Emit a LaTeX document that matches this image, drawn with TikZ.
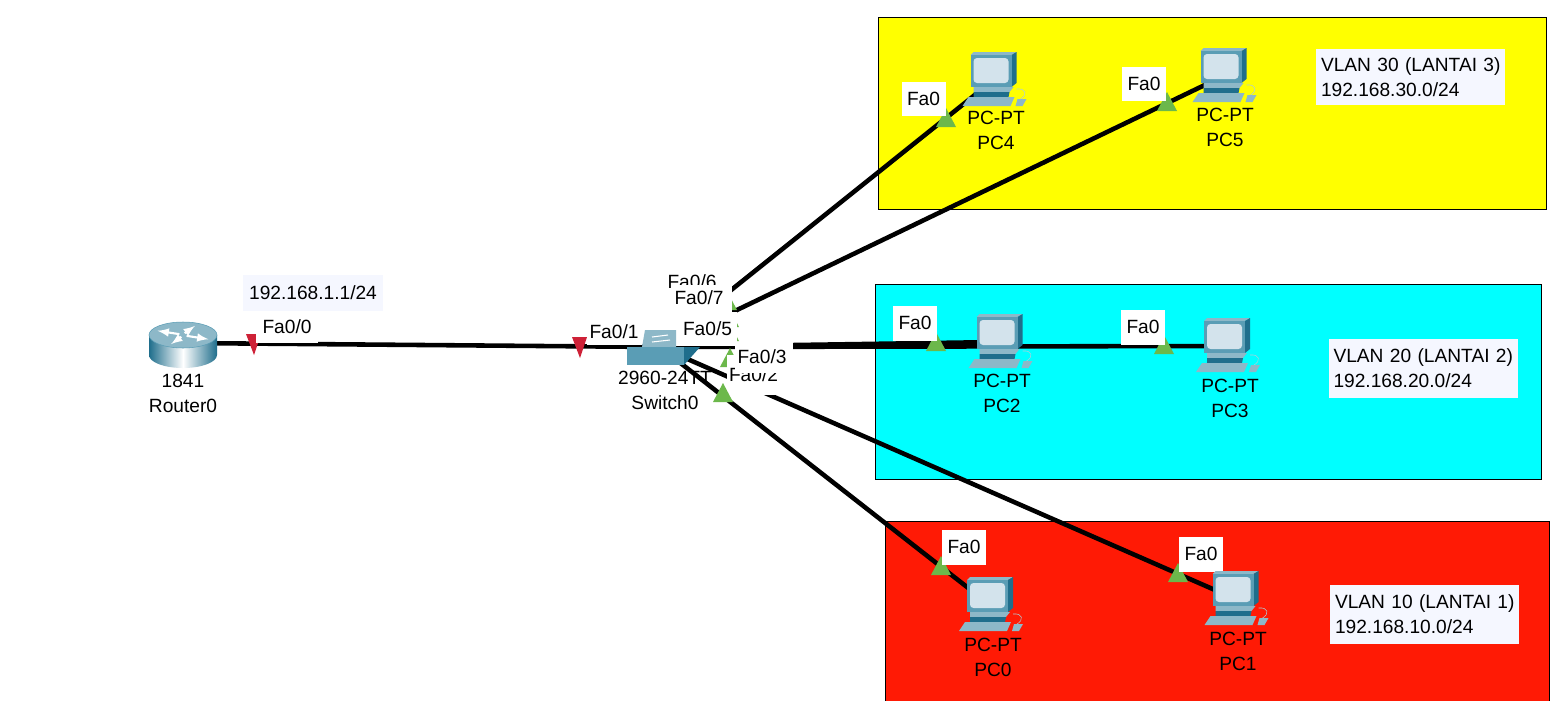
\documentclass[tikz,border=0pt]{standalone}
\usepackage{fontspec}
\setmainfont{Liberation Sans}
\definecolor{zoneyellow}{HTML}{FFFF00}
\definecolor{zonecyan}{HTML}{00FFFF}
\definecolor{zonered}{HTML}{FF1A05}
\definecolor{notebg}{HTML}{F5F7FF}
\definecolor{upgreen}{HTML}{6CB84B}
\definecolor{downred}{HTML}{CE2137}
\definecolor{teal1}{HTML}{5A9DB5}
\definecolor{teal2}{HTML}{1F6E8C}
\definecolor{teal3}{HTML}{8DB8C8}
\definecolor{screen}{HTML}{D3E3EC}
\tikzset{
  zone/.style={draw=black,line width=0.5pt},
  link/.style={line width=2.6pt},
  txt/.style={font=\fontsize{10.9}{14.2}\selectfont,inner sep=0pt,align=center},
  portbox/.style={txt,fill=white,minimum width=#1},
  notebox/.style={txt,fill=notebg,align=left,text width=3.78cm},
  pics/uptri/.style={code={\fill[upgreen] (0,-12) -- (10,7) -- (-10,7) -- cycle;}},
  pics/downtri/.style={code={\fill[downred] (-8,-10) -- (7,-10) -- (0,11) -- cycle;}},
  pics/pcicon/.style={code={
    \fill[teal3] (-23,-25) -- (-20,-28) -- (23,-28) -- (18,-25) -- cycle;
    \fill[teal2] (18,-25) -- (23,-28) -- (23,3) -- (18,7) -- cycle;
    \fill[teal1] (-23,-25) rectangle (18,7);
    \fill[screen,rounded corners=2pt] (-20,-22) rectangle (15,3);
    \fill[teal3] (-20,7) -- (20,7) -- (16,12) -- (-20,12) -- cycle;
    \fill[teal2] (-20,12) -- (16,12) -- (15,17) -- (-20,17) -- cycle;
    \fill[teal3] (-25,17) -- (21,17) -- (17,26) -- (-31,26) -- cycle;
    \fill[teal3] (24,19) -- (33,19) -- (29,26) -- (22,26) -- cycle;
    \draw[teal3!70,line width=0.3pt] (27,19) .. controls (34,15) and (33,8) .. (23,9);
  }},
  pics/routericon/.style={code={
    \shade[left color=teal2,right color=teal2,middle color=white] (-34,0) -- (-34,20) arc[start angle=180,end angle=0,x radius=34,y radius=13] -- (34,0) -- cycle;
    \fill[teal3,draw=teal1,line width=0.3pt] (0,0) ellipse[x radius=34,y radius=13];
    \foreach \a in {25,115,205,295}
      \draw[white,line width=1.2pt,-latex] (\a:4 and 2) -- (\a:28 and 10);
  }},
  pics/switchicon/.style={code={
    \fill[teal3] (-15,-17) -- (16,-17) -- (16,0) -- (-18,0) -- cycle;
    \draw[white,line width=0.6pt] (-8,-10) -- (8,-12) (-8,-5) -- (10,-7);
    \fill[teal1] (-33,0) rectangle (24,18);
    \fill[teal2] (24,0) -- (40,0) -- (24,18) -- cycle;
  }}
}
\begin{document}
\begin{tikzpicture}[x=0.02cm,y=-0.02cm]
  \useasboundingbox (0,0) rectangle (1565,700);
  \fill[white] (0,0) rectangle (1565,700);

  \draw[zone,fill=zoneyellow] (878,17) rectangle (1546,209);
  \draw[zone,fill=zonecyan] (875,284) rectangle (1541,479);
  \draw[zone,fill=zonered] (885,521) rectangle (1549,701);

  \coordinate (router) at (183,343);
  \coordinate (switch) at (660,347);
  \coordinate (pc0) at (990,605);
  \coordinate (pc1) at (1235.5,599);
  \coordinate (pc2) at (999.5,342);
  \coordinate (pc3) at (1227,346);
  \coordinate (pc4) at (993.5,80);
  \coordinate (pc5) at (1223.5,76);

  \draw[link] (router) -- (switch);
  \foreach \n in {0,...,5}
    \draw[link] (switch) -- (pc\n);

  \path (254,344) pic {downtri} (580,347) pic {downtri};
  \foreach \x/\y in {946/120,1167/104,936/344,1164/347,941/568,1178/575,727/303,729/320,729/334,730/360}
    \path (\x,\y) pic {uptri};

  % port labels at the switch, the later ones lie over the earlier
  \node[portbox=66*0.02cm,minimum height=0.52cm] (p6) at (697,282) {Fa0/6\hspace*{0.2cm}};
  \node[portbox=60*0.02cm,minimum height=0.54cm] (p7) at (702,298) {Fa0/7\hspace*{0.12cm}};
  \node[portbox=65*0.02cm,minimum height=0.68cm] (p5) at (704.5,329) {\hspace*{0.12cm}Fa0/5};
  \node[portbox=53*0.02cm,minimum height=0.8cm] (p2) at (753.5,375) {Fa0/2};
  \node[portbox=58*0.02cm,minimum height=0.62cm] (p3) at (764,357) {\raisebox{-0.08cm}{Fa0/3}\hspace*{0.08cm}};
  \node[portbox=62*0.02cm,minimum height=0.64cm] (p0) at (287,327) {Fa0/0};
  \node[portbox=55*0.02cm,minimum height=0.54cm] (p1) at (614,331.5) {Fa0/1};
  \path (723,395) pic {uptri};

  \foreach \n/\x/\y in {a/923.5/99,b/1144/84,c/915/323,d/1143/327,e/964/547,f/1201/554}
    \node[portbox=44*0.02cm,minimum height=0.7cm] (f\n) at (\x,\y) {Fa0};

  \node[txt,fill=notebg,minimum width=140*0.02cm,minimum height=0.72cm] (gw) at (313,293) {192.168.1.1/24};
  \node[notebox,minimum height=1.12cm] (v30) at (1410.5,77) {\hspace*{0.1cm}VLAN 30 (LANTAI 3)\\\hspace*{0.1cm}192.168.30.0/24};
  \node[notebox,minimum height=1.18cm] (v20) at (1423,368.5) {\hspace*{0.1cm}VLAN 20 (LANTAI 2)\\\hspace*{0.1cm}192.168.20.0/24};
  \node[notebox,minimum height=1.18cm] (v10) at (1424.5,614.5) {\hspace*{0.1cm}VLAN 10 (LANTAI 1)\\\hspace*{0.1cm}192.168.10.0/24};

  \path (router) ++(0,-8) pic {routericon};
  \path (switch) pic {switchicon};
  \node[txt] (routerlbl) at (183,393) {1841\\Router0};
  \node[txt] (switchlbl) at (665,390) {2960-24TT\\Switch0};

  \foreach \n/\x/\y/\m in {0/993/657/PC0,1/1238/651/PC1,2/1002/393/PC2,3/1230/398/PC3,4/996/130/PC4,5/1225/127/PC5}{
    \path (pc\n) pic {pcicon};
    \node[txt] (lbl\n) at (\x,\y) {PC-PT\\\m};
  }
\end{tikzpicture}
\end{document}
